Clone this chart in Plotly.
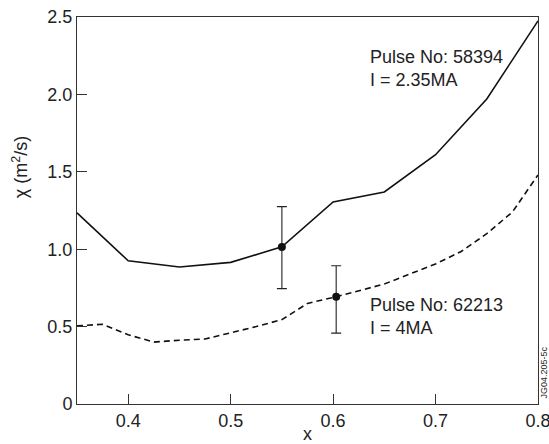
import plotly.graph_objects as go

# Data
x_solid = [0.35, 0.40, 0.45, 0.50, 0.55, 0.60, 0.65, 0.70, 0.75, 0.80]
chi_solid = [1.235, 0.925, 0.885, 0.915, 1.015, 1.305, 1.37, 1.61, 1.97, 2.475]

x_dashed = [0.35, 0.375, 0.40, 0.425, 0.45, 0.475, 0.50, 0.525, 0.55, 0.575,
            0.603, 0.65, 0.70, 0.725, 0.75, 0.775, 0.80]
chi_dashed = [0.505, 0.515, 0.447, 0.40, 0.412, 0.42, 0.46, 0.50, 0.545, 0.65,
              0.693, 0.775, 0.905, 0.985, 1.10, 1.24, 1.48]

err_x = [0.55, 0.603]
err_y = [1.015, 0.693]
err_plus = [0.26, 0.20]
err_minus = [0.27, 0.235]

labels_58394 = "Pulse No: 58394<br>I = 2.35MA"
labels_62213 = "Pulse No: 62213<br>I = 4MA"

y_ticks = [0, 0.5, 1.0, 1.5, 2.0, 2.5]
y_ticktext = ["0", "0.5", "1.0", "1.5", "2.0", "2.5"]
x_ticks = [0.4, 0.5, 0.6, 0.7, 0.8]
x_ticktext = ["0.4", "0.5", "0.6", "0.7", "0.8"]

FONT = "Liberation Sans, Arial, sans-serif"
TXT = "#222222"

fig = go.Figure()
fig.add_trace(go.Scatter(x=x_solid, y=chi_solid, mode="lines",
                         line=dict(color="#111111", width=1.6), showlegend=False))
fig.add_trace(go.Scatter(x=x_dashed, y=chi_dashed, mode="lines",
                         line=dict(color="#111111", width=1.6, dash="6px,4px"),
                         showlegend=False))
fig.add_trace(go.Scatter(x=err_x, y=err_y, mode="markers",
                         marker=dict(color="#111111", size=8),
                         error_y=dict(type="data", symmetric=False, array=err_plus,
                                      arrayminus=err_minus, color="#222222",
                                      thickness=1.1, width=5),
                         showlegend=False))

fig.add_annotation(x=0.634, y=2.166, xref="x", yref="y", text=labels_58394,
                   showarrow=False, xanchor="left", yanchor="middle", align="left",
                   font=dict(family=FONT, size=18, color=TXT))
fig.add_annotation(x=0.634, y=0.565, xref="x", yref="y", text=labels_62213,
                   showarrow=False, xanchor="left", yanchor="middle", align="left",
                   font=dict(family=FONT, size=18, color=TXT))
fig.add_annotation(x=1.013, y=0.0815, xref="paper", yref="paper", text="JG04.205-5c",
                   showarrow=False, textangle=-90, xanchor="center", yanchor="middle",
                   font=dict(family=FONT, size=9, color=TXT))
# axis titles
fig.add_annotation(x=0.5, y=-0.078, xref="paper", yref="paper", text="x",
                   showarrow=False, xanchor="center", yanchor="middle",
                   font=dict(family=FONT, size=18, color=TXT))
fig.add_annotation(x=-0.1236, y=0.612, xref="paper", yref="paper",
                   text="χ (m<sup>2</sup>/s)", textangle=-90,
                   showarrow=False, xanchor="center", yanchor="middle",
                   font=dict(family=FONT, size=18, color=TXT))

axis_common = dict(showgrid=False, zeroline=False, showline=True, linecolor="#333333",
                   linewidth=1, mirror=True, ticks="inside", ticklen=10,
                   tickcolor="#333333", tickwidth=1, automargin=False,
                   ticklabeloverflow="allow",
                   tickfont=dict(family=FONT, size=18, color=TXT))

fig.update_xaxes(range=[0.35, 0.8], tickvals=x_ticks, ticktext=x_ticktext, **axis_common)
fig.update_yaxes(range=[0, 2.5], tickvals=y_ticks, ticktext=y_ticktext, **axis_common)

fig.update_layout(width=549, height=444, plot_bgcolor="white", paper_bgcolor="white",
                  margin=dict(l=77, r=11, t=17, b=40), showlegend=False)

fig.write_html("out.html", config={"displayModeBar": False},
               post_script="document.body.style.margin='0';document.body.style.overflow='hidden';")
